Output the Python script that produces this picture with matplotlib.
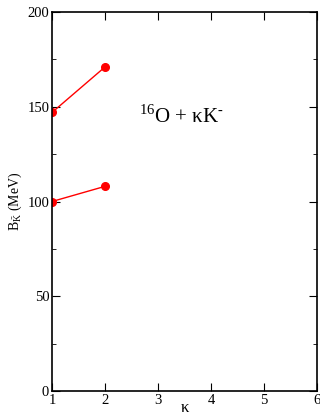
import matplotlib
matplotlib.use('Agg')
import matplotlib.pyplot as plt
from matplotlib.ticker import MultipleLocator

plt.rcParams['font.family'] = ['Liberation Serif', 'DejaVu Serif']
plt.rcParams['mathtext.fontset'] = 'custom'
plt.rcParams['mathtext.rm'] = 'Liberation Serif'

# 数据
kappa = [1, 2]
upper = [147, 171]
lower = [100, 108]

fig = plt.figure(figsize=(3.2, 4.16), dpi=100)
ax = fig.add_axes([0.1625, 0.0601, 0.8280, 0.9110])

for series in [upper, lower]:
    ax.plot(kappa, series, '-o', color='red', lw=1, ms=5.5)

ax.set_xlim(1, 6)
ax.set_ylim(0, 200)
ax.xaxis.set_major_locator(MultipleLocator(1))
ax.yaxis.set_major_locator(MultipleLocator(50))
ax.yaxis.set_minor_locator(MultipleLocator(25))
ax.tick_params(which='both', direction='in', top=True, right=True, labelsize=10.5, pad=2)
ax.tick_params(which='major', length=6)
ax.tick_params(which='minor', length=3)
for s in ax.spines.values():
    s.set_linewidth(1.2)

ax.set_xlabel('κ', fontsize=12, labelpad=-5)
ax.set_ylabel(r'B$_{\bar{\mathrm{K}}}$ (MeV)', fontsize=10, labelpad=2)
ax.text(2.65, 145, r'$^{16}$O + κK$^{\mathrm{\text{-}}}$', fontsize=15, va='center', ha='left')

plt.savefig('out.png', dpi=100)
